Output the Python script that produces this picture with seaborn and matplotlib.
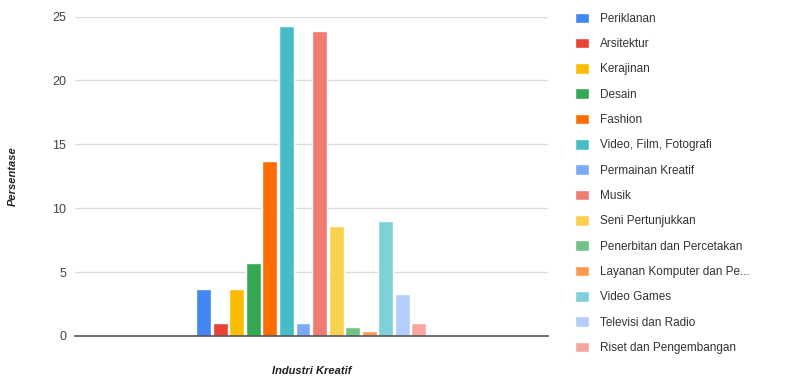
import numpy as np
import pandas as pd
import matplotlib
matplotlib.use("Agg")
import matplotlib.pyplot as plt
import seaborn as sns

# data
industri = ['Periklanan', 'Arsitektur', 'Kerajinan', 'Desain', 'Fashion',
            'Video, Film, Fotografi', 'Permainan Kreatif', 'Musik',
            'Seni Pertunjukkan', 'Penerbitan dan Percetakan',
            'Layanan Komputer dan Pe...', 'Video Games',
            'Televisi dan Radio', 'Riset dan Pengembangan']
persentase = [3.7, 1.0, 3.7, 5.7, 13.7, 24.3, 1.0, 23.9, 8.6, 0.7, 0.4, 9.0, 3.3, 1.0]
warna = ['#4285F4', '#EA4335', '#FBBC04', '#34A853', '#FF6D01', '#46BDC6',
         '#7BAAF7', '#F07B72', '#FCD04F', '#71C287', '#FF994D', '#7ED1D7',
         '#B3CEFB', '#F7A7A0']
y_ticks = [0, 5, 10, 15, 20, 25]

df = pd.DataFrame({'kategori': [''] * len(industri),
                   'industri': industri,
                   'persentase': persentase})

sns.set_style('white')
plt.rcParams['font.family'] = ['Liberation Sans', 'DejaVu Sans']

fig = plt.figure(figsize=(7.87, 3.77), dpi=100)
ax = fig.add_axes([0.095, 0.109, 0.601, 0.847])

sns.barplot(data=df, x='kategori', y='persentase', hue='industri',
            hue_order=industri, palette=warna, gap=0.1, width=0.8,
            saturation=1, ax=ax, legend=True)

ax.set_xlim(-0.816, 0.816)
ax.set_ylim(0, 25)
ax.set_yticks(y_ticks)
ax.set_xticks([])
ax.yaxis.grid(True, color='#dddddd', linewidth=1)
ax.set_axisbelow(True)
for s in ['top', 'right', 'left']:
    ax.spines[s].set_visible(False)
ax.spines['bottom'].set_color('#555555')
ax.spines['bottom'].set_linewidth(1.2)
ax.tick_params(axis='y', length=0, labelsize=9, labelcolor='#444444', pad=6)

ax.set_xlabel('Industri Kreatif', fontsize=8, fontweight='bold', style='italic',
              color='#222222', labelpad=22)
ax.set_ylabel('Persentase', fontsize=8, fontweight='bold', style='italic',
              color='#222222')
ax.yaxis.set_label_coords(-0.12, 0.5)

handles, labels = ax.get_legend_handles_labels()
ax.legend(handles, labels, loc='upper left', bbox_to_anchor=(0.717, 0.995),
          bbox_transform=fig.transFigure, frameon=False, fontsize=8.5,
          handlelength=1.2, handleheight=1.0, handletextpad=0.9,
          labelspacing=1.1, labelcolor='#333333')

plt.savefig('out.png', dpi=100)
plt.close()
